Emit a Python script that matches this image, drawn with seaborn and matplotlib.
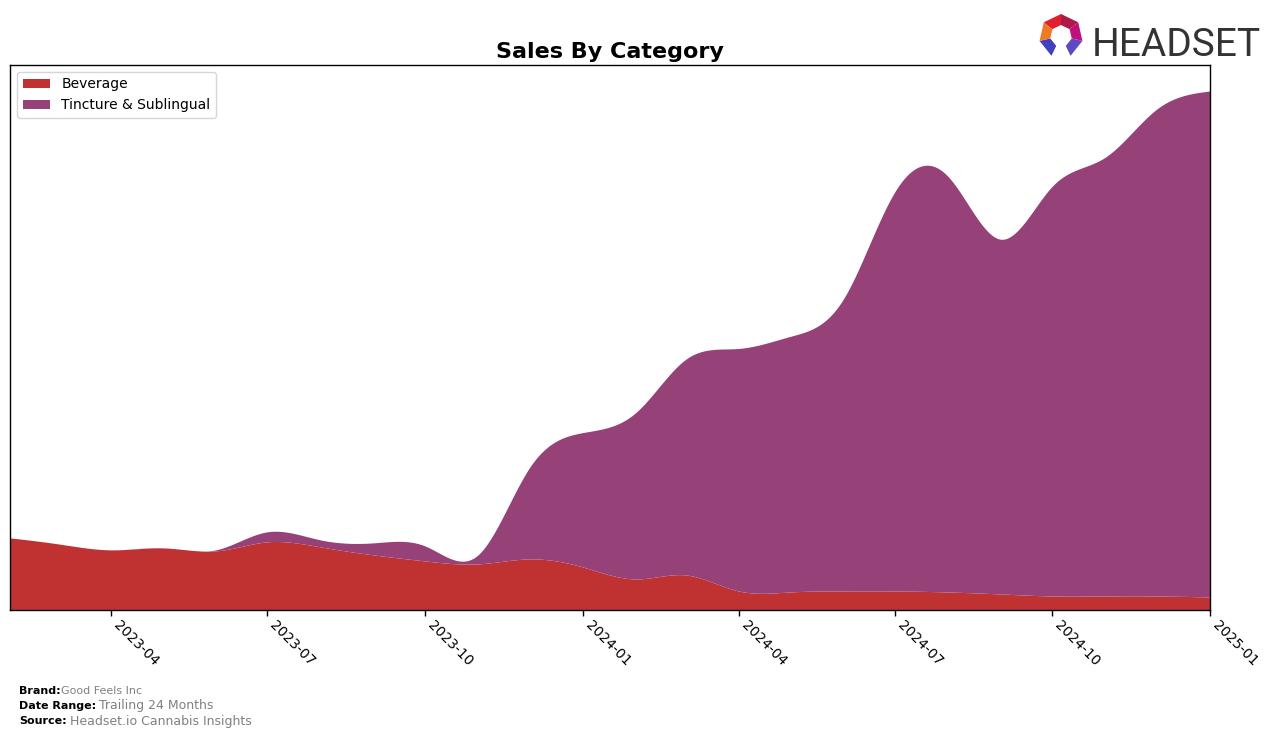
import numpy as np
import pandas as pd
import matplotlib
matplotlib.use("Agg")
import matplotlib.pyplot as plt
import matplotlib.dates as mdates
from matplotlib.patches import Polygon
import seaborn as sns

# ---- data (monthly, arbitrary units) ----
months = pd.date_range("2023-02-01", "2025-01-01", freq="MS")
beverage = [72, 66, 60, 62, 59, 68, 63, 55, 49, 46, 51, 43,
            31, 35, 19, 18, 19, 19, 18, 16, 14, 14, 14, 13]
tincture = [0, 0, 0, 0, 1, 10, 7, 12, 15, 9, 91, 134,
            166, 215, 242, 255, 291, 398, 415, 354, 409, 438, 486, 505]
categories = ["Beverage", "Tincture & Sublingual"]
colors = ["#C03232", "#964177"]
tick_labels = ["2023-04", "2023-07", "2023-10", "2024-01",
               "2024-04", "2024-07", "2024-10", "2025-01"]


def natural_spline(x, y, xs):
    x = np.asarray(x, float); y = np.asarray(y, float)
    n = len(x)
    h = np.diff(x)
    A = np.zeros((n, n)); r = np.zeros(n)
    A[0, 0] = A[-1, -1] = 1
    for i in range(1, n - 1):
        A[i, i - 1] = h[i - 1]
        A[i, i] = 2 * (h[i - 1] + h[i])
        A[i, i + 1] = h[i]
        r[i] = 3 * ((y[i + 1] - y[i]) / h[i] - (y[i] - y[i - 1]) / h[i - 1])
    c = np.linalg.solve(A, r)
    b = (y[1:] - y[:-1]) / h - h * (2 * c[:-1] + c[1:]) / 3
    d = (c[1:] - c[:-1]) / (3 * h)
    idx = np.clip(np.searchsorted(x, xs) - 1, 0, n - 2)
    dx = xs - x[idx]
    return y[idx] + b[idx] * dx + c[idx] * dx ** 2 + d[idx] * dx ** 3


sns.set_theme(style="white")
plt.rcParams["font.family"] = ["DejaVu Sans"]
plt.rcParams["text.color"] = "black"
plt.rcParams["axes.labelcolor"] = "black"
plt.rcParams["xtick.color"] = "black"
plt.rcParams["axes.titlecolor"] = "black"

W, H = 1276, 739
fig = plt.figure(figsize=(W / 100, H / 100), dpi=100)
ax = fig.add_axes([10 / W, 1 - 610 / H, 1200 / W, 545 / H])

xnum = mdates.date2num(months)
xs = np.linspace(xnum[0], xnum[-1], 800)
bev_s = np.clip(natural_spline(xnum, beverage, xs), 0, None)
tin_s = np.clip(natural_spline(xnum, tincture, xs), 0, None)
xd = mdates.num2date(xs)

ax.fill_between(xd, 0, bev_s, color=colors[0], label=categories[0], linewidth=0)
ax.fill_between(xd, bev_s, bev_s + tin_s, color=colors[1], label=categories[1], linewidth=0)

ax.set_xlim(months[0], months[-1])
ax.set_ylim(0, None)
ax.margins(x=0)
ax.set_yticks([])
ticks = pd.to_datetime(tick_labels)
ax.set_xticks(ticks)
ax.set_xticklabels(tick_labels, rotation=-45, ha="left", fontsize=10, color="black")
ax.tick_params(axis="x", direction="out", length=4, width=1, color="black", bottom=True, pad=2)
for s in ax.spines.values():
    s.set_color("black"); s.set_linewidth(1)
ax.set_title("Sales By Category", fontsize=16, fontweight="bold", pad=5, color="black")
leg = ax.legend(loc="upper left", fontsize=10, frameon=True, fancybox=True,
                edgecolor="#cccccc", borderaxespad=0.5)
for t in leg.get_texts():
    t.set_color("black")

# footer
fig.text(19 / W, 1 - 691 / H, "Brand:", fontsize=8, fontweight="bold", va="center")
fig.text(61 / W, 1 - 691 / H, "Good Feels Inc", fontsize=8, color="#808080", va="center")
fig.text(19 / W, 1 - 706 / H, "Date Range:", fontsize=8, fontweight="bold", va="center")
fig.text(99 / W, 1 - 706 / H, "Trailing 24 Months", fontsize=9, color="#808080", va="center")
fig.text(19 / W, 1 - 721 / H, "Source:", fontsize=8, fontweight="bold", va="center")
fig.text(70 / W, 1 - 721 / H, "Headset.io Cannabis Insights", fontsize=9, color="#808080", va="center")

# logo word mark (real text)
fig.text(1092 / W, 1 - 56 / H, "HEADSET", fontsize=28, color="#333333", va="baseline",
         ha="left", family=["Roboto", "DejaVu Sans"])

cx, cy, R, r_in = 1061, 36, 22, 11
angles = np.deg2rad(90 - np.arange(8) * 360 / 7)
seg_colors = ["#b01848", "#c0107a", "#6048c0", None, "#4040c0", "#f07a20", "#e02030"]
for i in range(7):
    if seg_colors[i] is None:
        continue
    a0, a1 = angles[i], angles[i + 1]
    pts = [(cx + R * np.cos(a0), cy - R * np.sin(a0)), (cx + R * np.cos(a1), cy - R * np.sin(a1)),
           (cx + r_in * np.cos(a1), cy - r_in * np.sin(a1)), (cx + r_in * np.cos(a0), cy - r_in * np.sin(a0))]
    pts = [(px / W, 1 - py / H) for px, py in pts]
    fig.patches.append(Polygon(pts, closed=True, transform=fig.transFigure,
                               facecolor=seg_colors[i], edgecolor="none"))

fig.savefig("out.png", dpi=100)
